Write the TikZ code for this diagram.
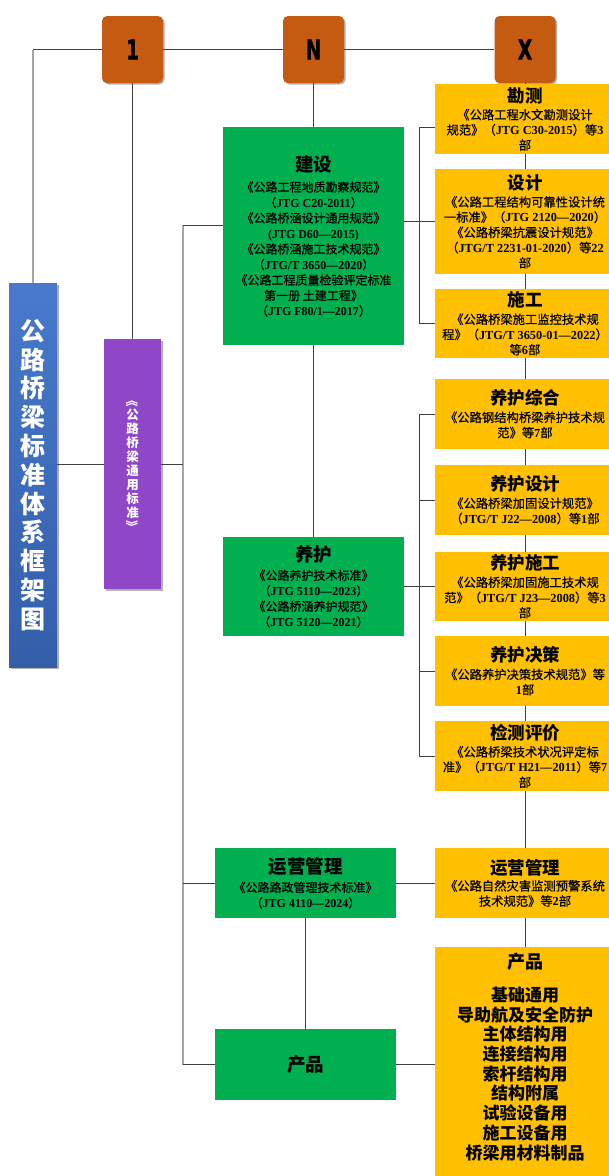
\documentclass[tikz,border=0pt]{standalone}
\usepackage{fontspec}
\setmainfont{Noto Sans CJK SC}
\newfontfamily\bodyf{Noto Sans CJK SC}[FakeBold=0.6]
\newfontfamily\lser{Liberation Serif}
\newfontfamily\heavy{DejaVu Sans}[FakeBold=2]
\usetikzlibrary{shadows}
\definecolor{brownbox}{HTML}{C55A11}
\definecolor{greenbox}{HTML}{00B050}
\definecolor{yellowbox}{HTML}{FFC000}
\definecolor{purplebox}{HTML}{8F46C7}
\definecolor{bluetop}{HTML}{4879CB}
\definecolor{bluebot}{HTML}{335FAA}
\definecolor{linec}{HTML}{404040}
\definecolor{spinec}{HTML}{A6A6A6}
\newcommand\E[1]{{\lser\bfseries #1}}
\newcommand\gtitle[1]{{\fontsize{18.5}{20}\selectfont\normalfont\bfseries #1}}
\newcommand\ytitle[1]{{\fontsize{17.5}{20}\selectfont\normalfont\bfseries #1}}
\newcommand\tnum[1]{{\heavy\bfseries\fontsize{27}{27}\selectfont\scalebox{0.68}[1]{#1}}}
\tikzset{
  ln/.style={draw=linec, line width=0.8pt},
  spineln/.style={draw=spinec, line width=1.3pt},
  topbox/.style={fill=brownbox, rounded corners=5pt, minimum width=61pt, minimum height=67pt, inner sep=0pt,
     drop shadow={shadow xshift=1.5pt, shadow yshift=-1.5pt, fill=black, opacity=0.3}},
  gbox/.style={fill=greenbox, minimum width=181pt, inner sep=0pt, align=center, text=black,
     font=\fontsize{12}{15.5}\selectfont\bodyf},
  ybox/.style={fill=yellowbox, minimum width=180pt, inner sep=0pt, align=center, text=black,
     font=\fontsize{12.3}{15.2}\selectfont\bodyf},
}
\begin{document}
\begin{tikzpicture}[x=1pt,y=-1pt]
\useasboundingbox (0,0) rectangle (609,1176);
\clip (0,0) rectangle (609,1176);
\fill[white] (0,0) rectangle (609,1176);

% top boxes
\node[topbox] (t1) at (132.5,49.5) {\tnum{1}};
\node[topbox] (tN) at (313.5,49.5) {\tnum{N}};
\node[topbox] (tX) at (525,49.5) {\tnum{X}};

% left title boxes
\node[top color=bluetop, bottom color=bluebot, minimum width=48pt, minimum height=384pt, inner sep=0pt,
      drop shadow={shadow xshift=1.5pt, shadow yshift=-1.5pt, fill=black, opacity=0.3},
      align=center, text=white, font=\fontsize{25}{28.8}\selectfont\bfseries]
  (blue) at (33,475) {公\\路\\桥\\梁\\标\\准\\体\\系\\框\\架\\图};
\node[fill=purplebox, minimum width=57pt, minimum height=250pt, inner sep=0pt,
      drop shadow={shadow xshift=1.5pt, shadow yshift=-1.5pt, fill=black, opacity=0.3},
      align=center, text=white, font=\fontsize{12.5}{14}\selectfont\bfseries]
  (purple) at (132.5,464) {\rotatebox[origin=c]{-90}{《}\\公\\路\\桥\\梁\\通\\用\\标\\准\\\rotatebox[origin=c]{-90}{》}};

% green boxes
\node[gbox, minimum height=218pt] (jianshe) at (313.5,236) {\gtitle{建设}\\[5pt]
  《公路工程地质勘察规范》\\（\E{JTG C20-2011}）\\《公路桥涵设计通用规范》\\\E{(JTG D60—2015)}\\
  《公路桥涵施工技术规范》\\（\E{JTG/T 3650—2020}）\\《公路工程质量检验评定标准\\第一册 土建工程》\\（\E{JTG F80/1—2017}）};
\node[gbox, minimum height=99pt] (yanghu) at (313.5,586.5) {\gtitle{养护}\\[3pt]
  《公路养护技术标准》\\（\E{JTG 5110—2023}）\\《公路桥涵养护规范》\\（\E{JTG 5120—2021}）};
\node[gbox, minimum height=70pt] (yunying) at (305.5,883) {\gtitle{运营管理}\\[3pt]
  《公路路政管理技术标准》\\（\E{JTG 4110—2024}）};
\node[gbox, minimum height=71pt] (chanpin) at (305.5,1064.5) {\gtitle{产品}};

% yellow boxes
\node[ybox, minimum height=70pt] (kance) at (525,119) {\ytitle{勘测}\\[2pt]
  《公路工程水文勘测设计\\规范》（\E{JTG C30-2015}）等\E{3}\\部};
\node[ybox, minimum height=105pt] (sheji) at (525,221.5) {\ytitle{设计}\\[2pt]
  《公路工程结构可靠性设计统\\一标准》（\E{JTG 2120—2020}）\\《公路桥梁抗震设计规范》\\（\E{JTG/T 2231-01-2020}）等\E{22}\\部};
\node[ybox, minimum height=69pt] (shigong) at (525,323.5) {\ytitle{施工}\\[2pt]
  《公路桥梁施工监控技术规\\程》（\E{JTG/T 3650-01—2022}）\\等\E{6}部};
\node[ybox, minimum height=70pt] (yhzh) at (525,414) {\ytitle{养护综合}\\[2pt]
  《公路钢结构桥梁养护技术规\\范》等\E{7}部};
\node[ybox, minimum height=70pt] (yhsj) at (525,500) {\ytitle{养护设计}\\[2pt]
  《公路桥梁加固设计规范》\\（\E{JTG/T J22—2008}）等\E{1}部};
\node[ybox, minimum height=69pt] (yhsg) at (525,586.5) {\ytitle{养护施工}\\[2pt]
  《公路桥梁加固施工技术规\\范》（\E{JTG/T J23—2008}）等\E{3}\\部};
\node[ybox, minimum height=70pt] (yhjc) at (525,671) {\ytitle{养护决策}\\[2pt]
  《公路养护决策技术规范》等\\\E{1}部};
\node[ybox, minimum height=70pt] (jcpj) at (525,756) {\ytitle{检测评价}\\[2pt]
  《公路桥梁技术状况评定标\\准》（\E{JTG/T H21—2011}）等\E{7}\\部};
\node[ybox, minimum height=70pt] (yyy) at (525,883) {\ytitle{运营管理}\\[1pt]
  《公路自然灾害监测预警系统\\技术规范》等\E{2}部};
\node[fill=yellowbox, minimum width=180pt, minimum height=260pt, inner sep=0pt, anchor=north] (cpy) at (525,947) {};
\node[align=center, anchor=north, inner sep=0pt, font=\fontsize{17}{19.7}\selectfont\bfseries] (cptext) at (525,953)
  {\fontsize{18}{19.7}\selectfont 产品\\[13pt]基础通用\\导助航及安全防护\\主体结构用\\连接结构用\\索杆结构用\\结构附属\\试验设备用\\施工设备用\\桥梁用材料制品};

% connectors: top row
\coordinate (lt) at (33,49.5);
\draw[ln] (lt) -- (t1.west);
\draw[ln] (t1.east) -- (tN.west);
\draw[ln] (tN.east) -- (tX.west);
\draw[spineln] (lt) -- (blue.north);
\draw[ln] (t1.south) -- (purple.north);
\draw[ln] (purple.west) -- (purple.west -| blue.east);

% left spine
\coordinate (sp1) at (183,225);
\coordinate (sp2) at (183,1064.5);
\draw[spineln] (sp1) -- (sp2);
\draw[ln] (purple.east) -- (purple.east -| sp1);
\draw[ln] (sp1) -- (sp1 -| jianshe.west);
\draw[ln] (yunying.west) -- (yunying.west -| sp1);
\draw[ln] (chanpin.west) -- (chanpin.west -| sp1);

% middle column
\draw[ln] (tN.south) -- (jianshe.north);
\draw[ln] (jianshe.south) -- (yanghu.north);
\draw[ln] (yunying.south) -- (chanpin.north);

% right spine A
\coordinate (ra1) at (419,127);
\draw[ln] (ra1 -| kance.west) -- (ra1) -- (ra1 |- shigong.west) -- (shigong.west);
\draw[ln] (jianshe.east |- sheji.west) -- (sheji.west);

% right spine B
\coordinate (rb) at (419,500);
\draw[ln] (yhzh.west) -- (yhzh.west -| rb) -- (jcpj.west -| rb) -- (jcpj.west);
\draw[ln] (yhsj.west) -- (yhsj.west -| rb);
\draw[ln] (yanghu.east) -- (yhsg.west);
\draw[ln] (yhjc.west) -- (yhjc.west -| rb);

% right column chain
\draw[ln] (tX.south) -- (kance.north);
\draw[ln] (kance.south) -- (sheji.north);
\draw[ln] (sheji.south) -- (shigong.north);
\draw[ln] (shigong.south) -- (yhzh.north);
\draw[ln] (yhzh.south) -- (yhsj.north);
\draw[ln] (yhsj.south) -- (yhsg.north);
\draw[ln] (yhsg.south) -- (yhjc.north);
\draw[ln] (yhjc.south) -- (jcpj.north);
\draw[ln] (jcpj.south) -- (yyy.north);
\draw[ln] (yyy.south) -- (cpy.north);
\draw[ln] (yunying.east) -- (yyy.west);
\draw[ln] (chanpin.east) -- (chanpin.east -| cpy.west);
\end{tikzpicture}
\end{document}
